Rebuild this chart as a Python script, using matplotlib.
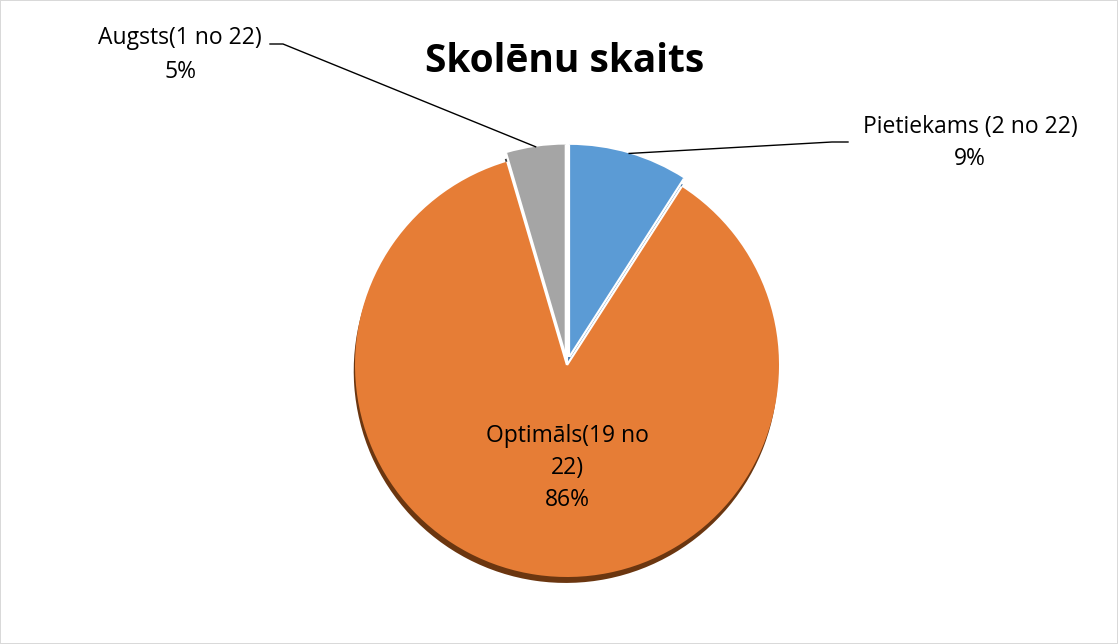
import numpy as np
import matplotlib.pyplot as plt

# ---------------------------------------------------------
# Data
# ---------------------------------------------------------
categories = ["Pietiekams (2 no 22)", "Optimāls(19 no\n22)", "Augsts(1 no 22)"]
counts = [2, 19, 1]
colors = ["#5B9BD5", "#E67D36", "#A5A5A5"]
shade_colors = ["#3F74A6", "#6B3610", "#3A3A3A"]
explode = [0.04, 0.0, 0.04]
title = "Skolēnu skaits"

plt.rcParams["font.family"] = ["Open Sans", "DejaVu Sans"]

fig = plt.figure(figsize=(11.18, 6.44), dpi=100, linewidth=1.2, edgecolor="#D9D9D9")
W, H = 1118, 644

# pie centre / radius in pixels
cx, cy, r = 567, 365, 212
half = 1.12 * r
ax = fig.add_axes([(cx - half) / W, (H - cy - half) / H, 2 * half / W, 2 * half / H])
ax.set_aspect("equal")
ax.axis("off")

# dark rim underneath (fake 3D edge)
ax.pie(counts, colors=shade_colors, startangle=90, counterclock=False,
       explode=explode, center=(-0.006, -0.028), radius=1.0,
       wedgeprops=dict(linewidth=0))

wedges, _ = ax.pie(counts, colors=colors, startangle=90, counterclock=False,
                   explode=explode, radius=1.0,
                   wedgeprops=dict(linewidth=0))
ax.set_xlim(-1.12, 1.12)
ax.set_ylim(-1.12, 1.12)

# white separators along the radial edges
for w in wedges:
    x0, y0 = w.center
    for th in (w.theta1, w.theta2):
        a = np.deg2rad(th)
        ax.plot([x0, x0 + np.cos(a)], [y0, y0 + np.sin(a)],
                color="white", linewidth=1.6, solid_capstyle="butt", zorder=3)

pct = [round(100 * c / sum(counts)) for c in counts]
labels = [f"{c}\n{p}%" for c, p in zip(categories, pct)]


def edge_point(i, rad=1.0):
    w = wedges[i]
    ang = np.deg2rad((w.theta1 + w.theta2) / 2)
    x0, y0 = w.center
    return x0 + rad * np.cos(ang), y0 + rad * np.sin(ang)


def to_fig(px, py):
    return px / W, 1 - py / H


# Pietiekams label (right)
fig.text(*to_fig(970, 143), labels[0], ha="center", va="center",
         fontsize=16.5, linespacing=1.42)
# Augsts label (left)
fig.text(*to_fig(180, 55), labels[2], ha="center", va="center",
         fontsize=16.5, linespacing=1.6)
# Optimāls label (inside)
fig.text(*to_fig(567, 468), labels[1], ha="center", va="center",
         fontsize=16.5, linespacing=1.42)

# leader lines
for i, pts in [(0, [(848, 142), (832, 142)]), (2, [(270, 44), (283, 44)])]:
    ex, ey = fig.transFigure.inverted().transform(ax.transData.transform(edge_point(i)))
    xs = [to_fig(*p)[0] for p in pts] + [ex]
    ys = [to_fig(*p)[1] for p in pts] + [ey]
    fig.add_artist(plt.Line2D(xs, ys, color="black", linewidth=1.0,
                              transform=fig.transFigure))

fig.text(*to_fig(565, 62), title, ha="center", va="center",
         fontsize=28, fontweight="bold")

fig.savefig("out.png", dpi=100, edgecolor=fig.get_edgecolor())
